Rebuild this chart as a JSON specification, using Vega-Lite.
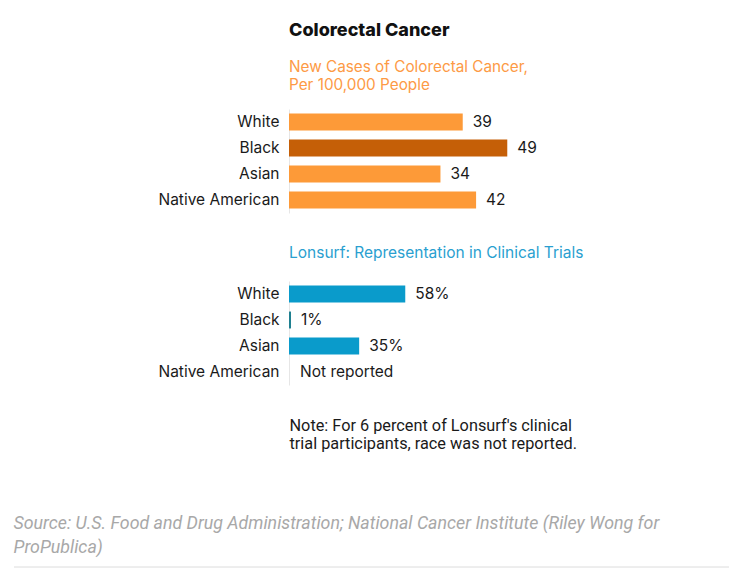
{
  "$schema": "https://vega.github.io/schema/vega-lite/v6.json",
  "padding": {"left": 13, "top": 21, "right": 5, "bottom": 5},
  "background": "white",
  "config": {"view": {"stroke": null}, "font": "Inter"},
  "spacing": 63,
  "vconcat": [
    {
      "spacing": 32,
      "resolve": {"scale": {"color": "independent", "x": "independent"}},
      "vconcat": [
        {
          "width": 441,
          "height": 104,
          "title": {
            "text": "Colorectal Cancer",
            "subtitle": ["New Cases of Colorectal Cancer,", "Per 100,000 People"],
            "anchor": "start",
            "frame": "group",
            "font": "Inter",
            "fontSize": 18,
            "fontWeight": 800,
            "color": "#111111",
            "subtitleFont": "Inter",
            "subtitleFontSize": 15.3,
            "subtitleColor": "#fd9a45",
            "subtitleLineHeight": 18,
            "subtitlePadding": 20,
            "offset": 16
          },
          "data": {
            "values": [
              {"race": "White", "rate": 39},
              {"race": "Black", "rate": 49},
              {"race": "Asian", "rate": 34},
              {"race": "Native American", "rate": 42}
            ]
          },
          "encoding": {
            "y": {
              "field": "race",
              "type": "nominal",
              "sort": null,
              "scale": {"paddingInner": 0.35, "paddingOuter": 0.175},
              "axis": {
                "title": null,
                "ticks": false,
                "labelPadding": 10,
                "labelFont": "Inter",
                "labelFontSize": 15.5,
                "labelColor": "#1a1a1a",
                "domainColor": "#e6e6e6",
                "minExtent": 275
              }
            },
            "x": {
              "field": "rate",
              "type": "quantitative",
              "scale": {"domain": [0, 99]},
              "axis": null
            }
          },
          "layer": [
            {
              "mark": {"type": "bar"},
              "encoding": {
                "color": {
                  "field": "race",
                  "type": "nominal",
                  "scale": {
                    "domain": ["White", "Black", "Asian", "Native American"],
                    "range": ["#fd9a38", "#c55f07", "#fd9a38", "#fd9a38"]
                  },
                  "legend": null
                }
              }
            },
            {
              "mark": {"type": "text", "align": "left", "dx": 10, "fontSize": 15.5, "font": "Inter", "color": "#1a1a1a"},
              "encoding": {"text": {"field": "rate", "type": "quantitative"}}
            }
          ]
        },
        {
          "width": 441,
          "height": 104,
          "title": {
            "text": "Lonsurf: Representation in Clinical Trials",
            "anchor": "start",
            "frame": "group",
            "font": "Inter",
            "fontSize": 15.5,
            "fontWeight": "normal",
            "color": "#2a9fd0",
            "offset": 20
          },
          "data": {
            "values": [
              {"race": "White", "share": 0.58},
              {"race": "Black", "share": 0.01},
              {"race": "Asian", "share": 0.35},
              {"race": "Native American", "share": null}
            ]
          },
          "encoding": {
            "y": {
              "field": "race",
              "type": "nominal",
              "sort": null,
              "scale": {"paddingInner": 0.35, "paddingOuter": 0.175},
              "axis": {
                "title": null,
                "ticks": false,
                "labelPadding": 10,
                "labelFont": "Inter",
                "labelFontSize": 15.5,
                "labelColor": "#1a1a1a",
                "domainColor": "#e6e6e6",
                "minExtent": 275
              }
            }
          },
          "layer": [
            {
              "mark": {"type": "bar"},
              "encoding": {
                "x": {
                  "field": "share",
                  "type": "quantitative",
                  "scale": {"domain": [0, 2.01]},
                  "axis": {
                    "domain": false,
                    "ticks": false,
                    "labels": false,
                    "grid": false,
                    "title": ["Note: For 6 percent of Lonsurf's clinical", "trial participants, race was not reported."],
                    "titleAnchor": "start",
                    "titleAlign": "left",
                    "titleFont": "Roboto",
                    "titleFontSize": 16.3,
                    "titleFontWeight": "normal",
                    "titleColor": "#1a1a1a",
                    "titlePadding": 32,
                    "titleLineHeight": 18
                  }
                },
                "color": {
                  "field": "race",
                  "type": "nominal",
                  "scale": {
                    "domain": ["White", "Black", "Asian", "Native American"],
                    "range": ["#0a9bcb", "#1f8090", "#0a9bcb", "#0a9bcb"]
                  },
                  "legend": null
                }
              }
            },
            {
              "transform": [{"filter": "datum.share != null"}],
              "mark": {"type": "text", "align": "left", "dx": 10, "fontSize": 15.5, "font": "Inter", "color": "#1a1a1a"},
              "encoding": {
                "x": {"field": "share", "type": "quantitative"},
                "text": {"field": "share", "type": "quantitative", "format": ".0%"}
              }
            },
            {
              "transform": [{"filter": "datum.share == null"}],
              "mark": {"type": "text", "align": "left", "dx": 11, "fontSize": 15.5, "font": "Inter", "color": "#1a1a1a"},
              "encoding": {
                "x": {"datum": 0, "type": "quantitative"},
                "text": {"value": "Not reported"}
              }
            }
          ]
        }
      ]
    },
    {
      "width": 441,
      "height": 1,
      "title": {
        "text": ["Source: U.S. Food and Drug Administration; National Cancer Institute (Riley Wong for", "ProPublica)"],
        "anchor": "start",
        "frame": "bounds",
        "font": "Roboto",
        "fontStyle": "italic",
        "fontWeight": "normal",
        "fontSize": 17.8,
        "color": "#a8a8a8",
        "lineHeight": 24,
        "offset": 9
      },
      "data": {"values": [{"y": 0}]},
      "mark": {"type": "rule", "color": "#dcdcdc", "strokeWidth": 1, "clip": false},
      "encoding": {
        "x": {"datum": -275, "type": "quantitative", "scale": {"domain": [0, 441]}, "axis": null},
        "x2": {"datum": 440},
        "y": {
          "field": "y",
          "type": "quantitative",
          "scale": {"domain": [0, 1]},
          "axis": {"labels": false, "ticks": false, "domain": false, "grid": false, "title": null, "minExtent": 275}
        }
      }
    }
  ]
}
